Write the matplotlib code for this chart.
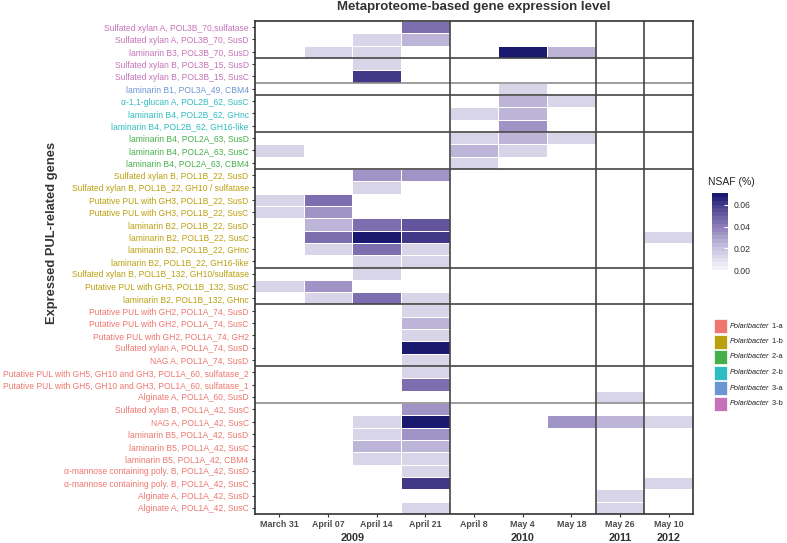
import numpy as np
import matplotlib
matplotlib.use("Agg")
import matplotlib.pyplot as plt
from matplotlib.colors import LinearSegmentedColormap
from matplotlib.patches import Rectangle
import matplotlib.cm as cm
from matplotlib.colors import Normalize

plt.rcParams['font.family'] = ['Liberation Sans', 'DejaVu Sans']

# sampling dates and years
dates = ["March 31", "April 07", "April 14", "April 21", "April 8",
         "May 4", "May 18", "May 26", "May 10"]
years = ["2009", "2009", "2009", "2009", "2010", "2010", "2010", "2011", "2012"]

genes = [
    "Sulfated xylan A, POL3B_70,sulfatase",
    "Sulfated xylan A, POL3B_70, SusD",
    "laminarin B3, POL3B_70, SusD",
    "Sulfated xylan B, POL3B_15, SusD",
    "Sulfated xylan B, POL3B_15, SusC",
    "laminarin B1, POL3A_49, CBM4",
    "\u03b1-1,1-glucan A, POL2B_62, SusC",
    "laminarin B4, POL2B_62, GHnc",
    "laminarin B4, POL2B_62, GH16-like",
    "laminarin B4, POL2A_63, SusD",
    "laminarin B4, POL2A_63, SusC",
    "laminarin B4, POL2A_63, CBM4",
    "Sulfated xylan B, POL1B_22, SusD",
    "Sulfated xylan B, POL1B_22, GH10 / sulfatase",
    "Putative PUL with GH3, POL1B_22, SusD",
    "Putative PUL with GH3, POL1B_22, SusC",
    "laminarin B2, POL1B_22, SusD",
    "laminarin B2, POL1B_22, SusC",
    "laminarin B2, POL1B_22, GHnc",
    "laminarin B2, POL1B_22, GH16-like",
    "Sulfated xylan B, POL1B_132, GH10/sulfatase",
    "Putative PUL with GH3, POL1B_132, SusC",
    "laminarin B2, POL1B_132, GHnc",
    "Putative PUL with GH2, POL1A_74, SusD",
    "Putative PUL with GH2, POL1A_74, SusC",
    "Putative PUL with GH2, POL1A_74, GH2",
    "Sulfated xylan A, POL1A_74, SusD",
    "NAG A, POL1A_74, SusD",
    "Putative PUL with GH5, GH10 and GH3, POL1A_60, sulfatase_2",
    "Putative PUL with GH5, GH10 and GH3, POL1A_60, sulfatase_1",
    "Alginate A, POL1A_60, SusD",
    "Sulfated xylan B, POL1A_42, SusC",
    "NAG A, POL1A_42, SusC",
    "laminarin B5, POL1A_42, SusD",
    "laminarin B5, POL1A_42, SusC",
    "laminarin B5, POL1A_42, CBM4",
    "\u03b1-mannose containing poly. B, POL1A_42, SusD",
    "\u03b1-mannose containing poly. B, POL1A_42, SusC",
    "Alginate A, POL1A_42, SusD",
    "Alginate A, POL1A_42, SusC",
]

strain = (["3-b"] * 5 + ["3-a"] + ["2-b"] * 3 + ["2-a"] * 3
          + ["1-b"] * 11 + ["1-a"] * 17)

# NSAF (%) per gene (rows) and date (columns), 0 = not detected
nsaf = [
    [0, 0, 0, 0.045, 0, 0, 0, 0, 0],
    [0, 0, 0.012, 0.024, 0, 0, 0, 0, 0],
    [0, 0.012, 0.012, 0, 0, 0.071, 0.024, 0, 0],
    [0, 0, 0.012, 0, 0, 0, 0, 0, 0],
    [0, 0, 0.062, 0, 0, 0, 0, 0, 0],
    [0, 0, 0, 0, 0, 0.012, 0, 0, 0],
    [0, 0, 0, 0, 0, 0.024, 0.012, 0, 0],
    [0, 0, 0, 0, 0.012, 0.024, 0, 0, 0],
    [0, 0, 0, 0, 0, 0.034, 0, 0, 0],
    [0, 0, 0, 0, 0.012, 0.024, 0.012, 0, 0],
    [0.012, 0, 0, 0, 0.024, 0.012, 0, 0, 0],
    [0, 0, 0, 0, 0.012, 0, 0, 0, 0],
    [0, 0, 0.034, 0.034, 0, 0, 0, 0, 0],
    [0, 0, 0.012, 0, 0, 0, 0, 0, 0],
    [0.012, 0.045, 0, 0, 0, 0, 0, 0, 0],
    [0.012, 0.034, 0, 0, 0, 0, 0, 0, 0],
    [0, 0.024, 0.045, 0.053, 0, 0, 0, 0, 0],
    [0, 0.045, 0.071, 0.062, 0, 0, 0, 0, 0.012],
    [0, 0.012, 0.045, 0.012, 0, 0, 0, 0, 0],
    [0, 0, 0.012, 0.012, 0, 0, 0, 0, 0],
    [0, 0, 0.012, 0, 0, 0, 0, 0, 0],
    [0.012, 0.034, 0, 0, 0, 0, 0, 0, 0],
    [0, 0.012, 0.045, 0.012, 0, 0, 0, 0, 0],
    [0, 0, 0, 0.012, 0, 0, 0, 0, 0],
    [0, 0, 0, 0.024, 0, 0, 0, 0, 0],
    [0, 0, 0, 0.012, 0, 0, 0, 0, 0],
    [0, 0, 0, 0.071, 0, 0, 0, 0, 0],
    [0, 0, 0, 0.012, 0, 0, 0, 0, 0],
    [0, 0, 0, 0.012, 0, 0, 0, 0, 0],
    [0, 0, 0, 0.045, 0, 0, 0, 0, 0],
    [0, 0, 0, 0, 0, 0, 0, 0.012, 0],
    [0, 0, 0, 0.034, 0, 0, 0, 0, 0],
    [0, 0, 0.012, 0.071, 0, 0, 0.034, 0.024, 0.012],
    [0, 0, 0.012, 0.034, 0, 0, 0, 0, 0],
    [0, 0, 0.024, 0.024, 0, 0, 0, 0, 0],
    [0, 0, 0.012, 0.012, 0, 0, 0, 0, 0],
    [0, 0, 0, 0.012, 0, 0, 0, 0, 0],
    [0, 0, 0, 0.062, 0, 0, 0, 0, 0.012],
    [0, 0, 0, 0, 0, 0, 0, 0.012, 0],
    [0, 0, 0, 0.012, 0, 0, 0, 0.012, 0],
]

strain_names = ["1-a", "1-b", "2-a", "2-b", "3-a", "3-b"]
strain_colors = {"1-a": "#EF776F", "1-b": "#BBA00E", "2-a": "#45B04B",
                 "2-b": "#2DBCC0", "3-a": "#6C95D4", "3-b": "#C572B8"}

W, H = 787, 543
fig = plt.figure(figsize=(W / 100, H / 100), dpi=100)

def fx(px):
    return px / W

def fy(py):
    return 1 - py / H

x0, x1, y0, y1 = 255, 693, 21, 514
ax = fig.add_axes([fx(x0), fy(y1), fx(x1 - x0), (y1 - y0) / H])

cmap = LinearSegmentedColormap.from_list(
    "nsaf", [(0, "#F3F2F9"), (0.28, "#C8C2DF"), (0.56, "#8F80BB"),
             (0.845, "#4B3F8E"), (1, "#191970")])
vmax = 0.071

data = np.ma.masked_equal(np.array(nsaf), 0)
ax.pcolormesh(np.arange(len(dates) + 1), np.arange(len(genes) + 1), data,
              cmap=cmap, vmin=0, vmax=vmax, edgecolors="white", linewidth=0.4)
ax.set_xlim(0, len(dates))
ax.set_ylim(len(genes), 0)

# PUL separators
pul = [[t.strip() for t in g.split(",") if t.strip().startswith("POL")][0] for g in genes]
light_lines = [5, 31]
for i in range(1, len(genes)):
    if pul[i] != pul[i - 1]:
        c = "#8f8f8f" if i in light_lines else "#444444"
        ax.axhline(i, color=c, lw=1.2)
# year separators
for j in range(1, len(dates)):
    if years[j] != years[j - 1]:
        ax.axvline(j, color="#444444", lw=1.2)

for s in ax.spines.values():
    s.set_color("#333333")
    s.set_linewidth(1.2)

ax.set_yticks(np.arange(len(genes)) + 0.5)
ax.set_yticklabels(genes, fontsize=6.15)
for lab, st in zip(ax.get_yticklabels(), strain):
    lab.set_color(strain_colors[st])
ax.set_xticks(np.arange(len(dates)) + 0.5)
ax.set_xticklabels(dates, fontsize=6.4, fontweight="bold", color="#4d4d4d")
ax.tick_params(axis="both", length=2.5, width=0.8, color="#333333", pad=2)

# year labels
trans = ax.get_xaxis_transform()
for yr in dict.fromkeys(years):
    idx = [j for j, y in enumerate(years) if y == yr]
    ax.text(np.mean(idx) + 0.5, -0.049, yr, transform=trans, ha="center",
            va="center", fontsize=7.8, fontweight="bold", color="#333333")

fig.text(fx(474), fy(7), "Metaproteome-based gene expression level",
         ha="center", va="center", fontsize=9.5, fontweight="bold", color="#333333")
fig.text(fx(52), fy(233), "Expressed PUL-related genes", rotation=90,
         ha="center", va="center", fontsize=9.3, fontweight="bold", color="#333333")

# colorbar
cax = fig.add_axes([fx(712), fy(270), fx(16), 77 / H])
sm = cm.ScalarMappable(norm=Normalize(0, vmax), cmap=cmap.resampled(20))
cb = fig.colorbar(sm, cax=cax, ticks=[0, 0.02, 0.04, 0.06])
cb.outline.set_visible(False)
cb.ax.set_yticklabels(["0.00", "0.02", "0.04", "0.06"], fontsize=6.2, color="#333333")
cb.ax.tick_params(direction="in", color="white", length=3, width=0.8, pad=4)
fig.text(fx(708), fy(182), "NSAF (%)", ha="left", va="center", fontsize=7.5,
         color="#222222")

# strain legend
for k, st in enumerate(strain_names):
    top = 319 + k * 15.5
    fig.add_artist(Rectangle((fx(714), fy(top + 14)), fx(13), 14 / H,
                             transform=fig.transFigure, facecolor=strain_colors[st],
                             edgecolor="white", lw=0.5))
    t = fig.text(fx(730), fy(top + 7), "Polaribacter", ha="left", va="center",
                 fontsize=5.3, style="italic", color="#222222")
    ax.annotate(" " + st, xy=(1, 0.5), xycoords=t, ha="left", va="center",
                fontsize=5.3, color="#222222", annotation_clip=False)

fig.savefig("out.png", dpi=100)
